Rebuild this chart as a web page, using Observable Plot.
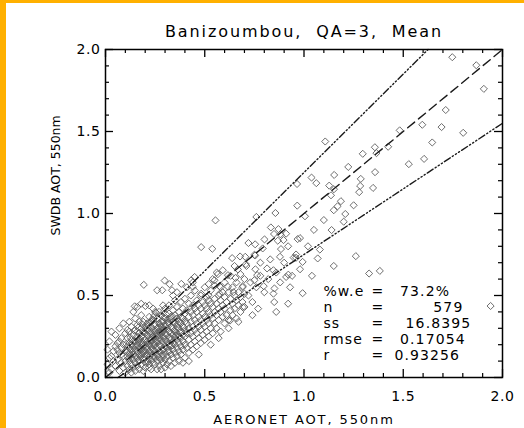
<!DOCTYPE html>
<html><head><meta charset="utf-8">
<script src="https://cdn.jsdelivr.net/npm/d3@7"></script>
<script src="https://cdn.jsdelivr.net/npm/@observablehq/plot@0.6"></script>
<style>
html,body{margin:0;padding:0;background:#fff;}
#wrap{position:relative;width:524px;height:428px;overflow:hidden;background:#fff;}
#wrap svg{position:absolute;left:0;top:0;}
#wrap svg text{white-space:pre;}
.bar{position:absolute;background:#FFB000;z-index:2;}
</style></head><body>
<div id="wrap"><div class="bar" style="left:0;top:0;width:6px;height:428px"></div><div class="bar" style="left:0;top:0;width:524px;height:3px"></div></div>
<script>
const title = "Banizoumbou,  QA=3,  Mean";
const xLabel = "AERONET AOT, 550nm";
const yLabel = "SWDB AOT, 550nm";
const majorTicks = [0, 0.5, 1, 1.5, 2];
const minorTicks = [0.1,0.2,0.3,0.4,0.6,0.7,0.8,0.9,1.1,1.2,1.3,1.4,1.6,1.7,1.8,1.9];
const oneToOne = [[0,0],[2,2]];
const eeUpper = [[0,0.05],[1.625,2]];
const eeLower = [[0.0625,0],[2,1.55]];
const statNames = ["%w.e","n","ss","rmse","r"];
const statValues = [" 73.2%","       579","  16.8395"," 0.17054","0.93256"];

// sparse points (upper range)
const sparse = [
[1.747,1.953],[1.868,1.904],[1.906,1.760],[1.714,1.631],[1.596,1.541],[1.693,1.527],[1.802,1.492],[1.482,1.507],[1.424,1.407],[1.646,1.433],[1.528,1.301],[1.605,1.333],
[1.107,1.439],[1.357,1.404],[1.365,1.368],[1.296,1.364],[1.223,1.284],[1.358,1.252],[1.286,1.211],[1.038,1.219],[1.062,1.185],[1.152,1.235],[1.127,1.170],[1.151,1.148],[1.136,1.111],[1.283,1.168],[1.278,1.130],[1.348,1.156],[0.965,1.180],[1.186,1.075],[1.169,1.044],[0.966,1.048],[0.856,1.003],[1.005,0.983],[1.208,0.997],[0.760,0.979],[0.833,0.915],[0.871,0.905],[0.881,0.873],[0.910,0.877],[0.968,0.844],[1.139,0.899],[0.801,0.842],
[1.940,0.436],[1.261,0.740],[1.328,0.634],[1.382,0.650],[1.069,0.726],[0.993,0.705],[0.993,0.514]
];
// mid range points
const mid = [
[0.554,0.958],[0.482,0.795],[0.538,0.785],[0.193,0.565],[0.298,0.591],[0.260,0.532],[0.286,0.532],[0.323,0.569],[0.335,0.532],[0.382,0.571],[0.147,0.434],[0.201,0.436],
[0.849,0.875],[0.868,0.834],[0.897,0.838],[0.884,0.783],[0.960,0.730],[0.879,0.736],[0.754,0.812],[0.792,0.787],[0.750,0.748],[0.707,0.691],[0.638,0.728],[0.704,0.736],[0.667,0.659],[0.591,0.654],[0.566,0.630],[0.617,0.624],[0.655,0.607],[0.755,0.660],[0.814,0.665],[0.846,0.654],[0.764,0.624],[0.750,0.593],[0.797,0.557],[0.851,0.543],[0.846,0.511],[0.910,0.613],[0.921,0.627],[0.948,0.731],[0.980,0.660],[0.692,0.557],[0.700,0.511],[0.617,0.553],[0.575,0.557],[0.549,0.593],[0.575,0.511],[0.519,0.502],[0.482,0.511],[0.440,0.553],[0.432,0.593],[0.449,0.613],
[0.678,0.738],[0.754,0.744],[0.769,0.420],[0.692,0.429],[0.628,0.348],[0.645,0.520],
[0.72,0.50],[0.73,0.58],[0.74,0.46],[0.76,0.55],[0.78,0.62],[0.78,0.70],[0.80,0.52],[0.82,0.60],[0.83,0.72],[0.86,0.64],[0.88,0.58],[0.90,0.70],[0.92,0.80],[0.94,0.62],[0.96,0.75],[0.98,0.85],[0.74,0.38],[0.85,0.46],[0.93,0.55],[0.72,0.82],[0.71,0.68],[0.86,0.40],[0.92,0.45],
[1.02,0.80],[1.05,0.90],[1.08,0.78],[1.10,0.96],[1.15,1.02],[1.20,0.95],[1.25,1.05],[1.04,0.62],[1.15,0.68]
];
// dense low range points
const dense = [
[0.01,0.08],[0.02,0.12],[0.02,0.22],[0.03,0.28],[0.03,0.05],[0.04,0.16],[0.04,0.10],[0.05,0.19],[0.05,0.26],[0.01,0.17],[0.03,0.13],[0.05,0.07],[0.02,0.03],
[0.06,0.11],[0.06,0.21],[0.07,0.15],[0.07,0.30],[0.07,0.04],[0.08,0.09],[0.08,0.18],[0.08,0.24],[0.09,0.13],[0.09,0.06],[0.09,0.20],[0.10,0.10],[0.10,0.16],[0.10,0.27],[0.06,0.17],[0.08,0.14],[0.10,0.03],[0.07,0.22],[0.09,0.33],
[0.11,0.07],[0.11,0.13],[0.11,0.19],[0.11,0.24],[0.12,0.05],[0.12,0.10],[0.12,0.15],[0.12,0.21],[0.12,0.28],[0.13,0.08],[0.13,0.12],[0.13,0.17],[0.13,0.23],[0.13,0.31],[0.14,0.06],[0.14,0.11],[0.14,0.14],[0.14,0.19],[0.14,0.26],[0.15,0.09],[0.15,0.13],[0.15,0.17],[0.15,0.22],[0.15,0.29],[0.15,0.36],[0.11,0.16],[0.12,0.18],[0.13,0.20],[0.14,0.22],[0.15,0.04],[0.13,0.03],[0.11,0.29],[0.12,0.34],[0.14,0.40],
[0.16,0.07],[0.16,0.12],[0.16,0.16],[0.16,0.20],[0.16,0.25],[0.16,0.32],[0.17,0.10],[0.17,0.14],[0.17,0.18],[0.17,0.23],[0.17,0.27],[0.17,0.05],[0.18,0.08],[0.18,0.13],[0.18,0.17],[0.18,0.21],[0.18,0.25],[0.18,0.30],[0.18,0.38],[0.19,0.11],[0.19,0.15],[0.19,0.19],[0.19,0.24],[0.19,0.28],[0.19,0.34],[0.20,0.06],[0.20,0.12],[0.20,0.16],[0.20,0.20],[0.20,0.23],[0.20,0.27],[0.20,0.31],[0.16,0.28],[0.17,0.21],[0.18,0.15],[0.19,0.21],[0.20,0.09],[0.17,0.34],[0.19,0.04],[0.16,0.43],[0.18,0.45],
[0.21,0.10],[0.21,0.14],[0.21,0.18],[0.21,0.22],[0.21,0.26],[0.21,0.33],[0.22,0.08],[0.22,0.12],[0.22,0.16],[0.22,0.20],[0.22,0.24],[0.22,0.29],[0.22,0.37],[0.23,0.11],[0.23,0.15],[0.23,0.19],[0.23,0.23],[0.23,0.27],[0.23,0.31],[0.23,0.05],[0.24,0.09],[0.24,0.13],[0.24,0.17],[0.24,0.21],[0.24,0.25],[0.24,0.29],[0.24,0.35],[0.25,0.12],[0.25,0.16],[0.25,0.20],[0.25,0.24],[0.25,0.28],[0.25,0.32],[0.25,0.40],[0.21,0.29],[0.22,0.06],[0.23,0.34],[0.24,0.42],[0.25,0.08],[0.22,0.44],
[0.26,0.10],[0.26,0.14],[0.26,0.18],[0.26,0.22],[0.26,0.26],[0.26,0.30],[0.26,0.36],[0.27,0.12],[0.27,0.16],[0.27,0.20],[0.27,0.24],[0.27,0.28],[0.27,0.33],[0.27,0.07],[0.28,0.11],[0.28,0.15],[0.28,0.19],[0.28,0.23],[0.28,0.27],[0.28,0.31],[0.28,0.38],[0.29,0.13],[0.29,0.17],[0.29,0.21],[0.29,0.25],[0.29,0.29],[0.29,0.34],[0.29,0.09],[0.30,0.15],[0.30,0.19],[0.30,0.23],[0.30,0.27],[0.30,0.31],[0.30,0.36],[0.30,0.42],[0.26,0.05],[0.27,0.40],[0.28,0.34],[0.29,0.44],[0.30,0.11],[0.28,0.05],[0.30,0.06],
[0.31,0.13],[0.31,0.18],[0.31,0.22],[0.31,0.26],[0.31,0.30],[0.31,0.35],[0.32,0.10],[0.32,0.16],[0.32,0.20],[0.32,0.24],[0.32,0.28],[0.32,0.33],[0.32,0.39],[0.33,0.14],[0.33,0.19],[0.33,0.23],[0.33,0.27],[0.33,0.31],[0.33,0.37],[0.34,0.12],[0.34,0.17],[0.34,0.21],[0.34,0.26],[0.34,0.30],[0.34,0.34],[0.34,0.41],[0.35,0.15],[0.35,0.20],[0.35,0.24],[0.35,0.28],[0.35,0.33],[0.35,0.38],[0.35,0.47],[0.31,0.08],[0.33,0.07],[0.35,0.09],[0.32,0.44],[0.34,0.50],
[0.36,0.13],[0.36,0.18],[0.36,0.23],[0.36,0.27],[0.36,0.31],[0.36,0.36],[0.36,0.43],[0.37,0.16],[0.37,0.21],[0.37,0.25],[0.37,0.30],[0.37,0.34],[0.37,0.40],[0.38,0.14],[0.38,0.19],[0.38,0.24],[0.38,0.28],[0.38,0.33],[0.38,0.37],[0.38,0.46],[0.39,0.17],[0.39,0.22],[0.39,0.26],[0.39,0.31],[0.39,0.36],[0.39,0.42],[0.40,0.12],[0.40,0.20],[0.40,0.25],[0.40,0.29],[0.40,0.34],[0.40,0.39],[0.40,0.48],[0.37,0.10],[0.39,0.09],[0.36,0.52],
[0.41,0.18],[0.41,0.27],[0.41,0.33],[0.41,0.41],[0.42,0.15],[0.42,0.23],[0.42,0.30],[0.42,0.37],[0.42,0.45],[0.43,0.20],[0.43,0.27],[0.43,0.34],[0.43,0.40],[0.43,0.50],[0.44,0.17],[0.44,0.25],[0.44,0.31],[0.44,0.38],[0.44,0.44],[0.45,0.22],[0.45,0.29],[0.45,0.35],[0.45,0.42],[0.45,0.53],[0.46,0.19],[0.46,0.27],[0.46,0.33],[0.46,0.40],[0.46,0.47],[0.47,0.24],[0.47,0.31],[0.47,0.37],[0.47,0.44],[0.48,0.21],[0.48,0.29],[0.48,0.35],[0.48,0.42],[0.48,0.50],[0.49,0.26],[0.49,0.33],[0.49,0.39],[0.49,0.46],[0.50,0.23],[0.50,0.31],[0.50,0.37],[0.50,0.44],[0.50,0.55],[0.42,0.10],[0.47,0.14],[0.44,0.58],[0.41,0.55],
[0.51,0.28],[0.51,0.35],[0.51,0.42],[0.51,0.49],[0.52,0.25],[0.52,0.33],[0.52,0.40],[0.52,0.47],[0.52,0.57],[0.53,0.30],[0.53,0.38],[0.53,0.45],[0.53,0.53],[0.54,0.27],[0.54,0.36],[0.54,0.43],[0.54,0.60],[0.55,0.33],[0.55,0.40],[0.55,0.48],[0.55,0.56],[0.56,0.30],[0.56,0.38],[0.56,0.45],[0.56,0.64],[0.57,0.35],[0.57,0.42],[0.57,0.50],[0.58,0.28],[0.58,0.40],[0.58,0.47],[0.58,0.55],[0.59,0.37],[0.59,0.44],[0.59,0.52],[0.60,0.33],[0.60,0.42],[0.60,0.49],[0.60,0.58],[0.53,0.20],[0.57,0.24],
[0.61,0.38],[0.61,0.46],[0.62,0.35],[0.62,0.52],[0.63,0.41],[0.63,0.48],[0.63,0.62],[0.64,0.38],[0.64,0.45],[0.64,0.55],[0.65,0.42],[0.65,0.50],[0.66,0.36],[0.66,0.47],[0.66,0.58],[0.67,0.44],[0.67,0.52],[0.68,0.40],[0.68,0.49],[0.68,0.63],[0.69,0.46],[0.69,0.55],[0.70,0.43],[0.70,0.60],[0.62,0.30],[0.67,0.34],[0.65,0.68]
];
// extra points in the dark core of the cluster
const core = [
[0.115,0.115],[0.125,0.135],[0.135,0.155],[0.145,0.175],[0.155,0.195],[0.165,0.215],[0.175,0.235],[0.185,0.255],[0.195,0.275],[0.205,0.295],[0.215,0.315],[0.225,0.335],[0.235,0.355],[0.245,0.375],[0.255,0.395],
[0.165,0.105],[0.175,0.125],[0.185,0.145],[0.195,0.165],[0.205,0.185],[0.215,0.205],[0.225,0.225],[0.235,0.245],[0.245,0.265],[0.255,0.285],[0.265,0.305],[0.275,0.325],[0.285,0.345],[0.295,0.365],[0.305,0.385],
[0.215,0.095],[0.225,0.135],[0.235,0.175],[0.245,0.195],[0.255,0.215],[0.265,0.235],[0.275,0.255],[0.285,0.275],[0.295,0.295],[0.305,0.315],[0.315,0.335],[0.325,0.355],[0.335,0.375],
[0.265,0.125],[0.285,0.165],[0.305,0.205],[0.325,0.245],[0.345,0.285],[0.365,0.325],[0.385,0.365],[0.315,0.155],[0.335,0.195],[0.355,0.255],[0.375,0.275],[0.395,0.305],
[0.105,0.205],[0.125,0.245],[0.145,0.285],[0.165,0.305],[0.185,0.325]
];
const points = [...dense, ...core, ...mid, ...sparse];

const W = 524, H = 428, mL = 105, mR = 22, mT = 49, mB = 51;
const fw = W - mL - mR, fh = H - mT - mB;
const font = "'DejaVu Sans', sans-serif";
const ink = "#000";
const lineInk = "#1a1a1a";
const ddd = "7,2.5,1.2,2.5,1.2,2.5,1.2,2.5";
const statY = (d, i) => 0.524 - i * 0.098;

const chart = Plot.plot({
  width: W, height: H,
  marginLeft: mL, marginRight: mR, marginTop: mT, marginBottom: mB,
  x: {domain: [0, 2], axis: null},
  y: {domain: [0, 2], axis: null},
  style: {fontFamily: font, background: "transparent", overflow: "visible", color: "#000"},
  marks: [
    Plot.dot(points, {x: d => d[0], y: d => d[1], symbol: "diamond2", r: 3.2, stroke: "#5e5e5e", strokeWidth: 0.9, fill: "none"}),
    Plot.line(oneToOne, {x: d => d[0], y: d => d[1], stroke: lineInk, strokeWidth: 1.4, strokeDasharray: "9,5"}),
    Plot.line(eeUpper, {x: d => d[0], y: d => d[1], stroke: lineInk, strokeWidth: 1.4, strokeDasharray: ddd}),
    Plot.line(eeLower, {x: d => d[0], y: d => d[1], stroke: lineInk, strokeWidth: 1.4, strokeDasharray: ddd}),
    Plot.frame({stroke: ink, strokeWidth: 1.5}),
    Plot.ruleX(majorTicks, {x: d => d, insetTop: fh - 8, stroke: ink, strokeWidth: 1.3}),
    Plot.ruleX(majorTicks, {x: d => d, insetBottom: fh - 8, stroke: ink, strokeWidth: 1.3}),
    Plot.ruleX(minorTicks, {x: d => d, insetTop: fh - 4, stroke: ink, strokeWidth: 1.2}),
    Plot.ruleX(minorTicks, {x: d => d, insetBottom: fh - 4, stroke: ink, strokeWidth: 1.2}),
    Plot.ruleY(majorTicks, {y: d => d, insetRight: fw - 8, stroke: ink, strokeWidth: 1.3}),
    Plot.ruleY(majorTicks, {y: d => d, insetLeft: fw - 8, stroke: ink, strokeWidth: 1.3}),
    Plot.ruleY(minorTicks, {y: d => d, insetRight: fw - 4, stroke: ink, strokeWidth: 1.2}),
    Plot.ruleY(minorTicks, {y: d => d, insetLeft: fw - 4, stroke: ink, strokeWidth: 1.2}),
    Plot.text(majorTicks, {x: d => d, frameAnchor: "bottom", lineAnchor: "middle", dy: 19, text: d => d.toFixed(1), fontSize: 14, fill: ink}),
    Plot.text(majorTicks, {y: d => d, frameAnchor: "left", lineAnchor: "middle", dx: -5, textAnchor: "end", text: d => d.toFixed(1), fontSize: 14, fill: ink}),
    Plot.text([xLabel], {frameAnchor: "bottom", lineAnchor: "middle", dy: 42, text: d => d, fontSize: 13, fill: ink}),
    Plot.text([yLabel], {frameAnchor: "left", lineAnchor: "middle", dx: -50, dy: 22, rotate: -90, text: d => d, fontSize: 12.5, fill: ink}),
    Plot.text([title], {frameAnchor: "top", lineAnchor: "middle", dy: -18, text: d => d, fontSize: 16, fill: ink}),
    Plot.text(statNames, {x: 1.098, y: statY, text: d => d, textAnchor: "start", fontSize: 14, fill: ink}),
    Plot.text(statNames, {x: 1.37, y: statY, text: () => "=", textAnchor: "middle", fontSize: 14, fill: ink}),
    Plot.text(statValues, {x: 1.456, y: statY, text: d => d, textAnchor: "start", fontSize: 14, fill: ink})
  ]
});
// widen the letter spacing of the texts to match the wide original lettering
const spacing = new Map([[title, "1.9px"], [xLabel, "1.9px"]]);
statNames.forEach(s => spacing.set(s, "1.1px"));
statValues.forEach(s => spacing.set(s, "1.1px"));
majorTicks.forEach(t => spacing.set(t.toFixed(1), "0.6px"));
d3.select(chart).selectAll("text").each(function() {
  const ls = spacing.get(this.textContent);
  if (ls) this.style.letterSpacing = ls;
});
document.getElementById("wrap").appendChild(chart);
</script>
</body></html>
